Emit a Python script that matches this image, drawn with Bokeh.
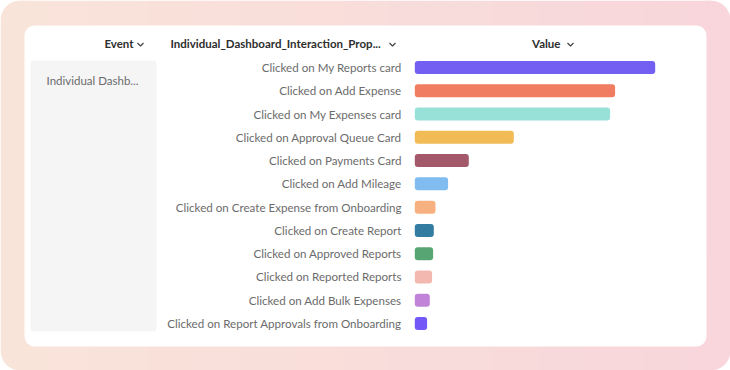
from bokeh.plotting import figure
from bokeh.models import Range1d
from bokeh.core.properties import value
from bokeh.embed import file_html
from bokeh.resources import INLINE

# ---- data ----
events = ["Clicked on My Reports card", "Clicked on Add Expense", "Clicked on My Expenses card",
          "Clicked on Approval Queue Card", "Clicked on Payments Card", "Clicked on Add Mileage",
          "Clicked on Create Expense from Onboarding", "Clicked on Create Report",
          "Clicked on Approved Reports", "Clicked on Reported Reports",
          "Clicked on Add Bulk Expenses", "Clicked on Report Approvals from Onboarding"]
counts = [2404, 2003, 1953, 990, 540, 333, 207, 190, 183, 173, 150, 123]
colors = ["#7360f2", "#f07c61", "#97e1d9", "#f1bc56", "#a35969", "#80bcf0",
          "#f7b07f", "#317ca0", "#57a572", "#f3b8af", "#c083d8", "#7357f7"]
event_group = "Individual Dashb..."
headers = ["Event", "Individual_Dashboard_Interaction_Prop...", "Value"]

# ---- layout ----
W, H, OFF = 730, 370, 0
ROW0, ROWN = 67, 323          # image px of first/last row centres
BAR0, BARMAX = 414.3, 654.7   # image px of bar base / longest bar end
ppu_y = (ROWN - ROW0) / (len(events) - 1)
ppu_x = (BARMAX - BAR0) / max(counts)
y0 = ROW0 - OFF
x0 = BAR0 - OFF

def px(xi):
    return ((xi - OFF) - x0) / ppu_x

def py(yi):
    return ((yi - OFF) - y0) / ppu_y

p = figure(width=W, height=H, output_backend="svg", toolbar_location=None,
           x_range=Range1d(-x0 / ppu_x, (W - x0) / ppu_x),
           y_range=Range1d((H - y0) / ppu_y, -y0 / ppu_y),
           min_border=0, min_border_left=0, min_border_right=0,
           min_border_top=0, min_border_bottom=0)
p.axis.visible = False
p.grid.visible = False
p.outline_line_color = None
p.border_fill_color = "white"
p.background_fill_color = "white"

# gradient background (peach -> pink)
c_left = (249, 228, 218)
c_right = (248, 214, 219)
R = 20
p.quad(left=px(0), right=px(2 * R + 4), top=py(0), bottom=py(370),
       fill_color="#%02x%02x%02x" % c_left, line_color=None, border_radius=R)
p.quad(left=px(730 - 2 * R - 4), right=px(730), top=py(0), bottom=py(370),
       fill_color="#%02x%02x%02x" % c_right, line_color=None, border_radius=R)
N = 60
lefts, rights, fills = [], [], []
for i in range(N):
    a = R + (730 - 2 * R) * i / N
    b = R + (730 - 2 * R) * (i + 1) / N + 0.6
    t = (i + 0.5) / N
    c = tuple(round(c_left[k] + (c_right[k] - c_left[k]) * t) for k in range(3))
    lefts.append(px(a)); rights.append(px(b)); fills.append("#%02x%02x%02x" % c)
p.quad(left=lefts, right=rights, top=py(0), bottom=py(370), fill_color=fills, line_color=None)

# white card
p.quad(left=px(24), right=px(706), top=py(25), bottom=py(346),
       fill_color="white", line_color=None, border_radius=10)
# grey event cell
p.quad(left=px(30), right=px(156), top=py(60), bottom=py(331),
       fill_color="#f5f5f5", line_color=None, border_radius=3)

FONT = value("Lato")
HDR = dict(text_baseline="middle", text_font=FONT, text_font_size="11.5px",
           text_font_style="bold", text_color="#2e2e2e")
# headers
p.text(x=[px(133)], y=[py(43)], text=[headers[0]], text_align="right", **HDR)
p.text(x=[px(170)], y=[py(43)], text=[headers[1]], text_align="left", **HDR)
p.text(x=[px(560)], y=[py(43)], text=[headers[2]], text_align="right", **HDR)
# chevrons
cx = [140, 392, 570]
p.multi_line(xs=[[px(c - 3), px(c), px(c + 3)] for c in cx],
             ys=[[py(42.5), py(45.5), py(42.5)] for c in cx],
             line_color="#444444", line_width=1.2)

p.text(x=[px(92)], y=[py(80)], text=[event_group], text_align="center", text_baseline="middle",
       text_font=FONT, text_font_size="11.5px", text_color="#6b6b6b")

ys = list(range(len(events)))
p.text(x=[px(401)] * len(events), y=ys, text=events, text_align="right", text_baseline="middle",
       text_font=FONT, text_font_size="11.6px", text_color="#6b6b6b")

p.hbar(y=ys, left=0, right=counts, height=13 / ppu_y, fill_color=colors, line_color=None,
       border_radius=3)

open("out.html", "w").write(file_html(p, INLINE))
